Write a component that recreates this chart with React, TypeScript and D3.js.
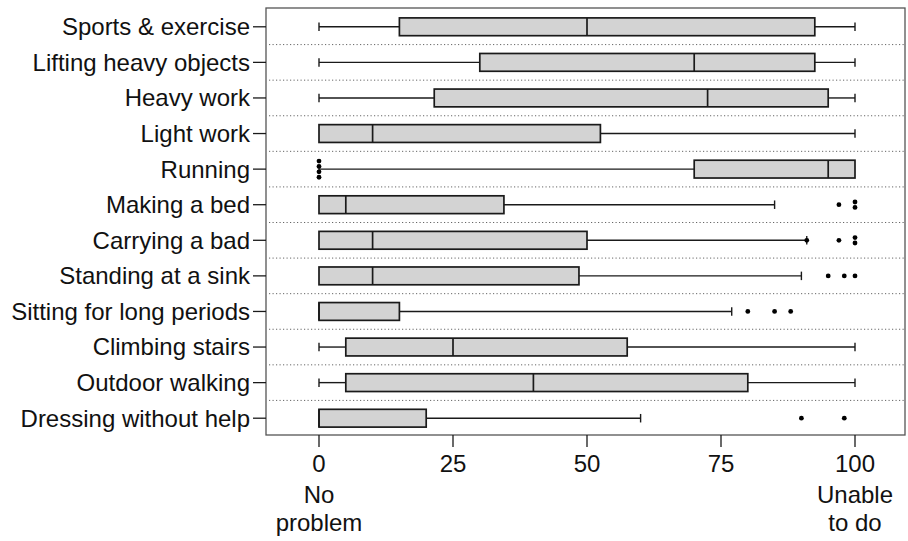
import React from "react";
import * as d3 from "d3";

const categories = [
  "Sports & exercise",
  "Lifting heavy objects",
  "Heavy work",
  "Light work",
  "Running",
  "Making a bed",
  "Carrying a bad",
  "Standing at a sink",
  "Sitting for long periods",
  "Climbing stairs",
  "Outdoor walking",
  "Dressing without help",
];
const whiskerLow = [0, 0, 0, 0, 0, 0, 0, 0, 0, 0, 0, 0];
const q1 = [15, 30, 21.5, 0, 70, 0, 0, 0, 0, 5, 5, 0];
const medians = [50, 70, 72.5, 10, 95, 5, 10, 10, 0, 25, 40, 0];
const q3 = [92.5, 92.5, 95, 52.5, 100, 34.5, 50, 48.5, 15, 57.5, 80, 20];
const whiskerHigh = [100, 100, 100, 100, 100, 85, 91, 90, 77, 100, 100, 60];
const outliers: number[][] = [
  [], [], [], [], [0, 0, 0, 0], [97, 100, 100], [91, 97, 100, 100], [95, 98, 100], [80, 85, 88], [], [], [90, 98],
];
const xTicks = [0, 25, 50, 75, 100];
const xTickLabels = ["0", "25", "50", "75", "100"];
const xExtraLabels: { v: number; lines: string[] }[] = [
  { v: 0, lines: ["No", "problem"] },
  { v: 100, lines: ["Unable", "to do"] },
];

export default function App() {
  const W = 908, H = 541;
  const panel = { left: 266, right: 905, top: 8, bottom: 435 };
  const x = d3.scaleLinear().domain([0, 100]).range([319, 855]);
  const y = d3.scaleBand<string>().domain(categories).range([9, 436]).padding(0);
  const step = y.step();
  const boxH = step * 0.5;
  const capH = 8.5;
  const font = "'Liberation Sans', Arial, Helvetica, sans-serif";
  const ink = "#1a1a1a";

  return (
    <svg width={W} height={H} style={{ position: "absolute", left: 0, top: 0, background: "#fff" }}>
      {/* separators */}
      {categories.slice(1).map((c) => (
        <line key={"sep" + c} x1={panel.left + 3} x2={panel.right} y1={y(c)!} y2={y(c)!}
          stroke="#666" strokeWidth={1} strokeDasharray="1.2 2.3" />
      ))}
      {/* boxes */}
      {categories.map((c, i) => {
        const cy = y(c)! + step / 2;
        const pts = outliers[i];
        const counts: Record<string, number> = {};
        pts.forEach((v) => { counts[v] = (counts[v] || 0) + 1; });
        const seen: Record<string, number> = {};
        return (
          <g key={c}>
            {whiskerLow[i] < q1[i] && (
              <g>
                <line x1={x(whiskerLow[i])} x2={x(q1[i])} y1={cy} y2={cy} stroke={ink} strokeWidth={1.4} />
                <line x1={x(whiskerLow[i])} x2={x(whiskerLow[i])} y1={cy - capH / 2} y2={cy + capH / 2} stroke={ink} strokeWidth={1.4} />
              </g>
            )}
            {whiskerHigh[i] > q3[i] && (
              <g>
                <line x1={x(q3[i])} x2={x(whiskerHigh[i])} y1={cy} y2={cy} stroke={ink} strokeWidth={1.4} />
                <line x1={x(whiskerHigh[i])} x2={x(whiskerHigh[i])} y1={cy - capH / 2} y2={cy + capH / 2} stroke={ink} strokeWidth={1.4} />
              </g>
            )}
            <rect x={x(q1[i])} y={cy - boxH / 2} width={x(q3[i]) - x(q1[i])} height={boxH}
              fill="#d3d3d3" stroke={ink} strokeWidth={1.7} />
            <line x1={x(medians[i])} x2={x(medians[i])} y1={cy - boxH / 2} y2={cy + boxH / 2} stroke={ink} strokeWidth={1.7} />
            {pts.map((v, k) => {
              const n = counts[v];
              const idx = seen[v] || 0;
              seen[v] = idx + 1;
              const off = (idx - (n - 1) / 2) * 5.4;
              return <circle key={k} cx={x(v)} cy={cy + off} r={2.4} fill="#000" />;
            })}
          </g>
        );
      })}
      {/* panel border */}
      <rect x={panel.left} y={panel.top} width={panel.right - panel.left} height={panel.bottom - panel.top}
        fill="none" stroke="#555" strokeWidth={1.3} />
      {/* y axis */}
      {categories.map((c) => {
        const cy = y(c)! + step / 2;
        return (
          <g key={"yl" + c}>
            <line x1={253} x2={panel.left} y1={cy} y2={cy} stroke={ink} strokeWidth={1.3} />
            <text x={250} y={cy} dy="0.35em" textAnchor="end" fontFamily={font} fontSize={24} fill="#111">{c}</text>
          </g>
        );
      })}
      {/* x axis */}
      {xTicks.map((t, i) => (
        <g key={"xt" + t}>
          <line x1={x(t)} x2={x(t)} y1={panel.bottom} y2={panel.bottom + 12} stroke={ink} strokeWidth={1.3} />
          <text x={x(t)} y={472} textAnchor="middle" fontFamily={font} fontSize={24} fill="#111">{xTickLabels[i]}</text>
        </g>
      ))}
      {xExtraLabels.map((l) => (
        <text key={"xe" + l.v} x={x(l.v)} textAnchor="middle" fontFamily={font} fontSize={24} fill="#111">
          {l.lines.map((s, k) => (
            <tspan key={k} x={x(l.v)} y={503 + k * 28}>{s}</tspan>
          ))}
        </text>
      ))}
    </svg>
  );
}
